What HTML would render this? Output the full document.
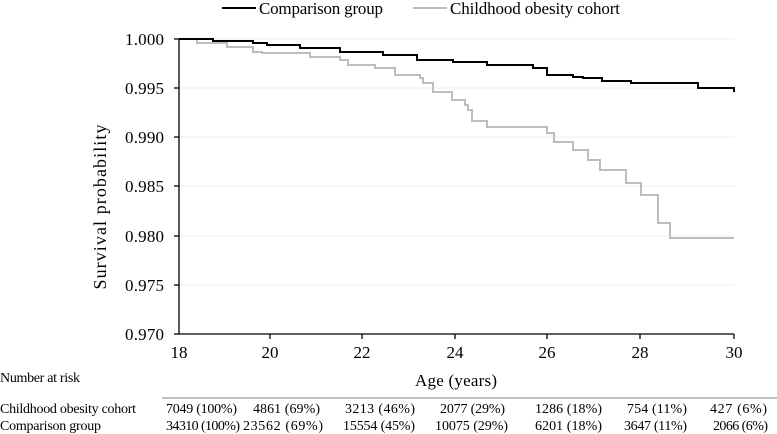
<!DOCTYPE html>
<html><head><style>body{margin:0;background:#fff}svg{display:block}text{font-family:"Liberation Serif",serif;fill:#000}</style></head><body>
<svg width="777" height="434" xmlns="http://www.w3.org/2000/svg">
<g stroke="#ececec" stroke-width="1">
<line x1="179" y1="39" x2="734" y2="39"/><line x1="179" y1="88" x2="734" y2="88"/><line x1="179" y1="137" x2="734" y2="137"/><line x1="179" y1="186" x2="734" y2="186"/><line x1="179" y1="236" x2="734" y2="236"/><line x1="179" y1="285" x2="734" y2="285"/>
</g>
<g stroke="#000" stroke-width="1.3">
<line x1="179" y1="39" x2="179" y2="334"/><line x1="179" y1="334" x2="734" y2="334"/>
<line x1="174" y1="39" x2="179" y2="39"/><line x1="174" y1="88" x2="179" y2="88"/><line x1="174" y1="137" x2="179" y2="137"/><line x1="174" y1="186" x2="179" y2="186"/><line x1="174" y1="236" x2="179" y2="236"/><line x1="174" y1="285" x2="179" y2="285"/><line x1="174" y1="334" x2="179" y2="334"/>
<line x1="270" y1="334" x2="270" y2="339"/><line x1="362" y1="334" x2="362" y2="339"/><line x1="455" y1="334" x2="455" y2="339"/><line x1="547" y1="334" x2="547" y2="339"/><line x1="640" y1="334" x2="640" y2="339"/><line x1="734" y1="334" x2="734" y2="339"/>
</g>
<g font-size="17" text-anchor="end">
<text x="164" y="45" textLength="39">1.000</text><text x="164" y="94" textLength="39">0.995</text><text x="164" y="143" textLength="39">0.990</text><text x="164" y="192" textLength="39">0.985</text><text x="164" y="242" textLength="39">0.980</text><text x="164" y="291" textLength="39">0.975</text><text x="164" y="340" textLength="39">0.970</text>
</g>
<g font-size="17" text-anchor="middle">
<text x="179" y="358">18</text><text x="270" y="358">20</text><text x="362" y="358">22</text><text x="455" y="358">24</text><text x="547" y="358">26</text><text x="640" y="358">28</text><text x="734" y="358">30</text>
<text x="456" y="386" textLength="82">Age (years)</text>
<text transform="translate(106,207) rotate(-90)" font-size="18" textLength="165">Survival probability</text>
</g>
<polyline fill="none" stroke="#bdbdbd" stroke-width="2" points="179,39 197,39 197,43 227,43 227,47 253,47 253,52 262,52 262,53 310,53 310,57 340,57 340,60 348,60 348,65 375,65 375,68 395,68 395,75 420,75 420,78 423,78 423,83 433,83 433,92 452,92 452,100 465,100 465,105 468,105 468,110 472,110 472,121 487,121 487,127 547,127 547,133 554,133 554,142 573,142 573,150 588,150 588,160 600,160 600,170 626,170 626,183 641,183 641,195 658,195 658,223 670,223 670,238 734,238"/>
<polyline fill="none" stroke="#000" stroke-width="2" points="179,39 213,39 213,41 253,41 253,43 267,43 267,45 300,45 300,48 340,48 340,52 383,52 383,55 417,55 417,60 453,60 453,62 487,62 487,65 533,65 533,68 547,68 547,75 573,75 573,77 583,77 583,78 602,78 602,81 631,81 631,83 698,83 698,88 734,88 734,92"/>
<line x1="222" y1="8" x2="256" y2="8" stroke="#000" stroke-width="2"/>
<text x="259" y="14" font-size="17" textLength="124">Comparison group</text>
<line x1="413" y1="8" x2="447" y2="8" stroke="#bdbdbd" stroke-width="2"/>
<text x="450" y="14" font-size="17" textLength="170">Childhood obesity cohort</text>
<g font-size="14">
<text x="0" y="382" textLength="80">Number at risk</text>
<text x="0" y="413" textLength="136">Childhood obesity cohort</text>
<text x="0" y="430" textLength="101">Comparison group</text>
<text x="166" y="413" textLength="71">7049 (100%)</text><text x="253" y="413" textLength="67">4861 (69%)</text><text x="345" y="413" textLength="70">3213 (46%)</text><text x="440" y="413" textLength="65">2077 (29%)</text><text x="535" y="413" textLength="67">1286 (18%)</text><text x="627" y="413" textLength="60">754 (11%)</text><text x="710" y="413" textLength="57">427 (6%)</text>
<text x="166" y="430" textLength="74">34310 (100%)</text><text x="243" y="430" textLength="80">23562 (69%)</text><text x="343" y="430" textLength="72">15554 (45%)</text><text x="435" y="430" textLength="73">10075 (29%)</text><text x="535" y="430" textLength="67">6201 (18%)</text><text x="624" y="430" textLength="63">3647 (11%)</text><text x="713" y="430" textLength="55">2066 (6%)</text>
</g>
<line x1="162" y1="398" x2="777" y2="398" stroke="#aaa" stroke-width="1.5"/>
</svg>
</body></html>
